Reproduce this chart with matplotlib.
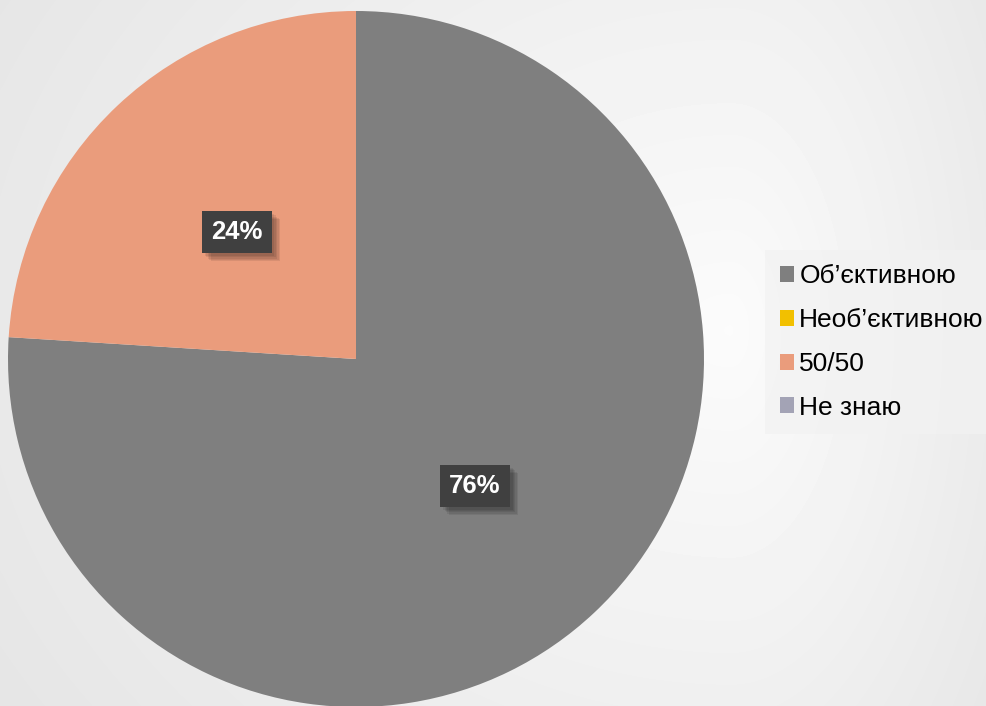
import matplotlib.pyplot as plt
import matplotlib.patheffects as pe
import numpy as np

categories = ["Об\u2019єктивною", "Необ\u2019єктивною", "50/50", "Не знаю"]
values = [76, 0, 24, 0]
colors = ["#7f7f7f", "#f2c000", "#ea9c7c", "#a3a3b5"]

plt.rcParams['font.family'] = ['Liberation Sans', 'DejaVu Sans']

W, H = 986, 706
fig = plt.figure(figsize=(W / 100, H / 100), dpi=100)

# soft grey background gradient
bg = fig.add_axes([0, 0, 1, 1], zorder=-1)
yy, xx = np.mgrid[0:H, 0:W]
sx = np.where(xx < 730, 800.0, 330.0)
d = np.sqrt(((xx - 730) / sx) ** 2 + ((yy - 330) / 650.0) ** 2)
shade = np.clip(0.985 - 0.08 * d, 0, 1)
bg.imshow(shade, cmap='gray', vmin=0, vmax=1, aspect='auto', interpolation='bilinear')
bg.axis('off')

# pie: centre (356, 359) px, radius 348 px
cx, cy, r = 356, 359, 348
ax = fig.add_axes([(cx - r) / W, (H - cy - r) / H, 2 * r / W, 2 * r / H])
wedges, _, autotexts = ax.pie(values, colors=colors, startangle=90, counterclock=False,
                              autopct=lambda p: f"{p:.0f}%" if p > 0 else "",
                              pctdistance=0.5, wedgeprops=dict(linewidth=0))
ax.set_xlim(-1, 1)
ax.set_ylim(-1, 1)
ax.set_aspect('equal')

# soft drop shadow made of a few faint offset copies
shadow = [pe.SimplePatchShadow(offset=(o, -o), shadow_rgbFace='black', alpha=0.08) for o in (2, 3, 4, 5, 6)]
for t in autotexts:
    t.set_color('white')
    t.set_fontsize(18.5)
    t.set_fontweight('bold')
    t.set_bbox(dict(boxstyle='square,pad=0.35', fc='#404040', lw=0))
    t.get_bbox_patch().set_path_effects(shadow + [pe.Normal()])

leg = fig.legend(wedges, categories, loc='center left', bbox_to_anchor=(765 / W, 1 - 342 / H),
                 fontsize=19, frameon=True, fancybox=False, handlelength=0.55, handleheight=0.55,
                 handletextpad=0.2, labelspacing=0.75, borderpad=0.55, borderaxespad=0)
leg.get_frame().set_facecolor('#f2f2f2')
leg.get_frame().set_alpha(0.7)
leg.get_frame().set_linewidth(0)

plt.savefig('out.png', dpi=100)
